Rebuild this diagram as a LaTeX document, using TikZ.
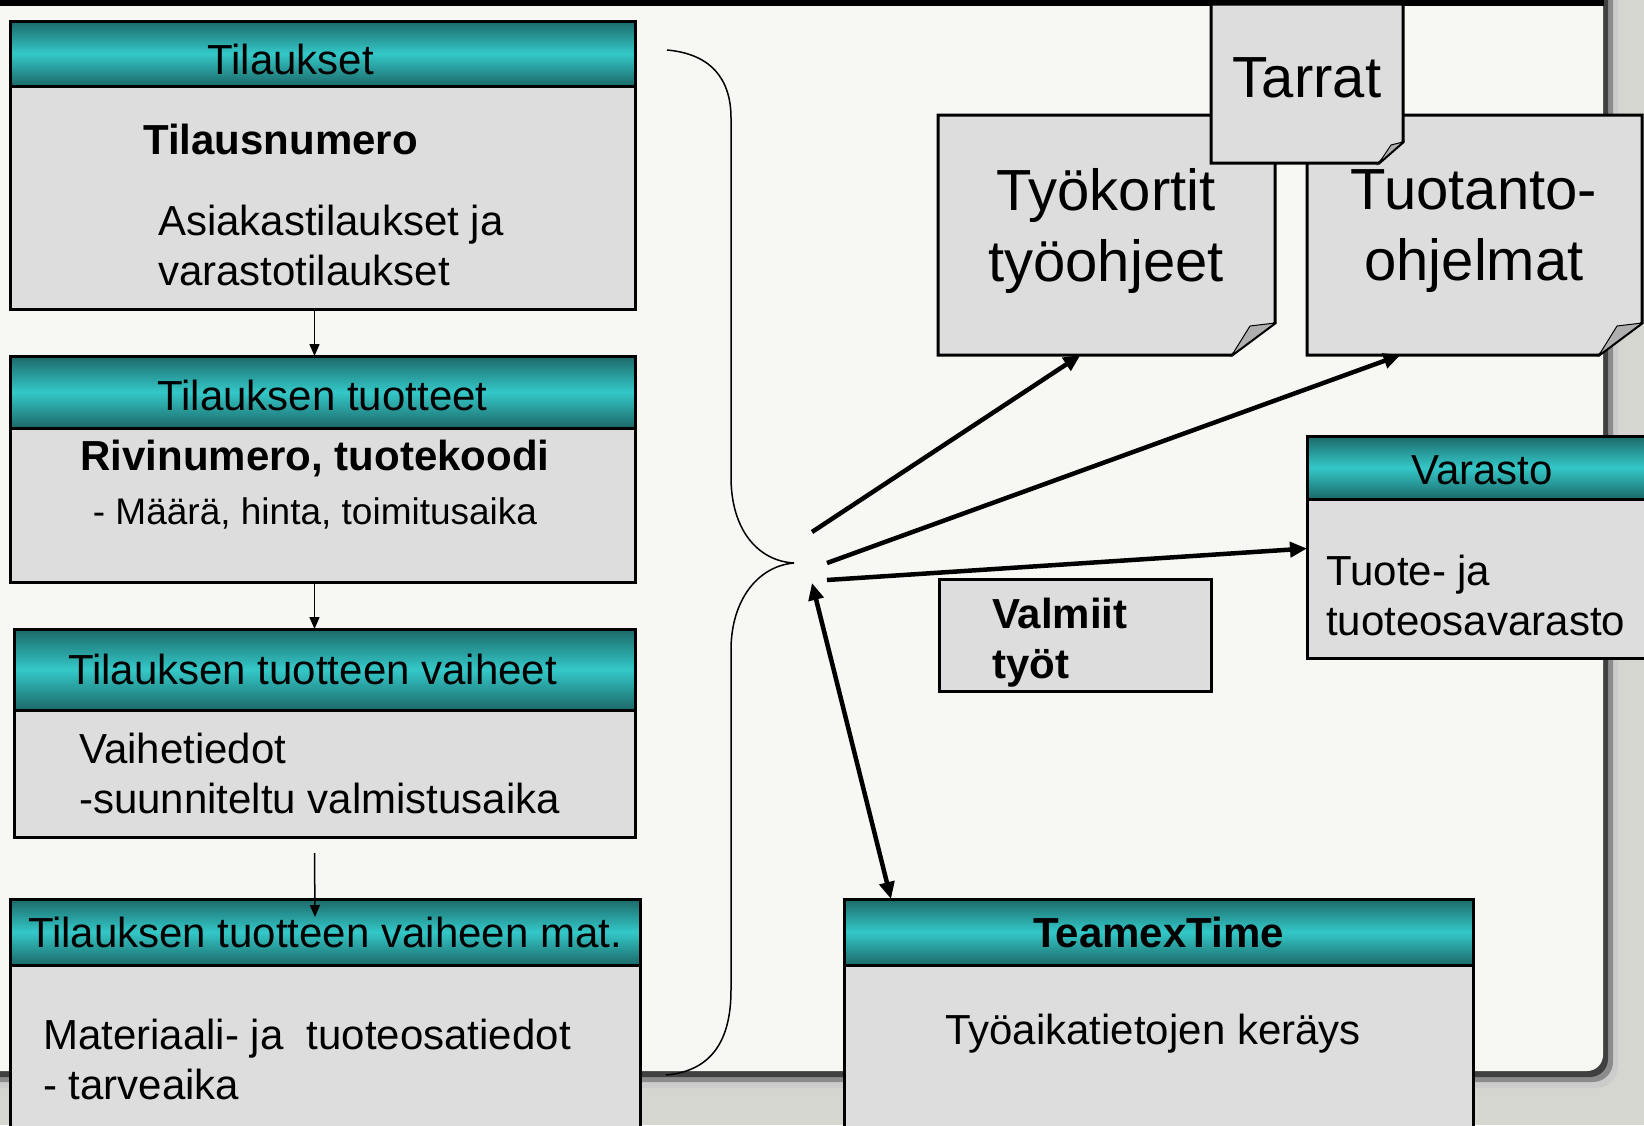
\documentclass[tikz,border=0pt]{standalone}
\usepackage{fontspec}
\setmainfont{Liberation Sans}
\usetikzlibrary{arrows.meta,calc}

\definecolor{boxgray}{RGB}{221,221,221}
\definecolor{tealdark}{RGB}{28,104,104}
\definecolor{teallight}{RGB}{52,200,200}
\definecolor{paper}{RGB}{247,247,243}
\definecolor{backgray}{RGB}{214,214,208}
\definecolor{foldgray}{RGB}{175,175,175}

\tikzset{
	hdr/.style={draw, line width=3pt, inner sep=0, outer sep=0, top color=tealdark, bottom color=tealdark, middle color=teallight, font=\fontsize{42}{50}\selectfont},
	bodybox/.style={draw, line width=3pt, fill=boxgray, inner sep=0, outer sep=0},
	txt/.style={font=\fontsize{42}{50}\selectfont, inner sep=0, align=left},
	txtb/.style={font=\fontsize{42}{50}\selectfont\bfseries, inner sep=0, align=left},
	docnode/.style={inner sep=0, outer sep=0},
	docline/.style={draw, line width=3pt, fill=boxgray},
	flap/.style={draw, line width=1pt, fill=foldgray},
	doctxt/.style={font=\fontsize{58}{71}\selectfont, inner sep=0, align=center},
	thinarr/.style={line width=1.5pt, -{Triangle[length=12pt,width=10pt]}},
	thickarr/.style={line width=4.5pt, -{Triangle[length=17pt,width=15pt]}},
	dblarr/.style={line width=4.5pt, {Triangle[length=17pt,width=15pt]}-{Triangle[length=17pt,width=15pt]}}
}

\begin{document}
\begin{tikzpicture}[x=1pt, y=-1pt]
	\useasboundingbox (0,0) rectangle (1644,1125);

% slide background and panel shadow
	\fill[backgray] (0,0) rectangle (1644,1125);
	\fill[black!20, rounded corners=22] (-20,-20) rectangle (1618,1088);
	\fill[black!45, rounded corners=20] (-20,-20) rectangle (1613,1082);
	\fill[black!75, rounded corners=18] (-20,-20) rectangle (1608,1077);
	\fill[paper, rounded corners=16] (-20,-20) rectangle (1603,1071);
	\fill[black] (0,0) rectangle (1604,6);

% order tables on the left
	\node[hdr, minimum width=625, minimum height=65, anchor=north west] (tilH) at (10,21) {\raisebox{-6pt}[\height][\depth]{Tilaukset}\hspace*{64pt}};
	\node[bodybox, minimum width=625, minimum height=223, anchor=north] (tilB) at (tilH.south) {};
	\node[txtb, anchor=west] (tilNum) at (143,139) {Tilausnumero};
	\node[txt, anchor=west] (tilTxt) at (158,245) {Asiakastilaukset ja\\varastotilaukset};

	\node[hdr, minimum width=625, minimum height=72, anchor=north west] (tuoH) at (10,356) {\raisebox{-3pt}[\height][\depth]{Tilauksen tuotteet}};
	\node[bodybox, minimum width=625, minimum height=154, anchor=north] (tuoB) at (tuoH.south) {};
	\node[txtb] (tuoKoodi) at (315,459) {Rivinumero, tuotekoodi};
	\node[txt, font=\fontsize{37}{44}\selectfont] (tuoMaara) at (315,513) {- Määrä, hinta, toimitusaika};

	\node[hdr, minimum width=621, minimum height=81, anchor=north west] (vaiH) at (14,629) {Tilauksen tuotteen vaiheet\hspace*{24pt}};
	\node[bodybox, minimum width=621, minimum height=127, anchor=north] (vaiB) at (vaiH.south) {};
	\node[txt, anchor=west] (vaiTxt) at (79,773) {Vaihetiedot\\-suunniteltu valmistusaika};

	\node[hdr, minimum width=630, minimum height=66, anchor=north west] (matH) at (10,899) {Tilauksen tuotteen vaiheen mat.};
	\node[bodybox, minimum width=630, minimum height=200, anchor=north] (matB) at (matH.south) {};
	\node[txt, anchor=west] (matTxt) at (43,1059) {Materiaali- ja\ \ tuoteosatiedot\\- tarveaika};

	\draw[thinarr] ([xshift=-8pt]tilB.south) -- ([xshift=-8pt]tuoH.north);
	\draw[thinarr] ([xshift=-8pt]tuoB.south) -- ([xshift=-10pt]vaiH.north);
	\draw[thinarr] ([xshift=-10pt, yshift=-16pt]vaiB.south) -- ([xshift=-10pt, yshift=-18pt]matH.north);

% brace
	\draw[line width=1.5pt] (667,50) .. controls (712,54) and (731,80) .. (731,118) -- (731,477)
		.. controls (731,530) and (758,561) .. (794,563)
		.. controls (758,566) and (731,600) .. (731,650) -- (731,990)
		.. controls (731,1040) and (712,1071) .. (666,1075);
	\coordinate (tip) at (794,563);

% printed documents
	\node[docnode, minimum width=337, minimum height=240, anchor=north west] (tyo) at (938,115) {};
	\draw[docline] (tyo.north west) -- (tyo.north east) -- ($(tyo.south east)+(0,-32)$) -- ($(tyo.south east)+(-43,0)$) -- (tyo.south west) -- cycle;
	\draw[flap] ($(tyo.south east)+(-43,0)$) -- ($(tyo.south east)+(-25,-29)$) -- ($(tyo.south east)+(0,-32)$) -- cycle;
	\node[doctxt] (tyoTxt) at (1106,231) {Työkortit\\työohjeet};

	\node[docnode, minimum width=335, minimum height=240, anchor=north west] (tuo) at (1307,115) {};
	\draw[docline] (tuo.north west) -- (tuo.north east) -- ($(tuo.south east)+(0,-32)$) -- ($(tuo.south east)+(-43,0)$) -- (tuo.south west) -- cycle;
	\draw[flap] ($(tuo.south east)+(-43,0)$) -- ($(tuo.south east)+(-25,-29)$) -- ($(tuo.south east)+(0,-32)$) -- cycle;
	\node[doctxt] (tuoTxt) at (1474,231) {Tuotanto-\\ohjelmat};

	\node[docnode, minimum width=192, minimum height=159, anchor=north west] (tar) at (1211,4) {};
	\draw[docline] (tar.north west) -- (tar.north east) -- ($(tar.south east)+(0,-21)$) -- ($(tar.south east)+(-24,0)$) -- (tar.south west) -- cycle;
	\draw[flap] ($(tar.south east)+(-24,0)$) -- ($(tar.south east)+(-12,-18)$) -- ($(tar.south east)+(0,-21)$) -- cycle;
	\node[doctxt] (tarTxt) at (1307,78) {Tarrat};

% stock, finished jobs, time collection
	\node[hdr, minimum width=350, minimum height=63, anchor=north west] (varH) at (1307,436) {\raisebox{-3pt}[\height][\depth]{Varasto}};
	\node[bodybox, minimum width=350, minimum height=159, anchor=north] (varB) at (varH.south) {};
	\node[txt, anchor=west] (varTxt) at (1326,595) {Tuote- ja\\tuoteosavarasto};

	\node[bodybox, minimum width=272, minimum height=112, anchor=north west] (valmis) at (939,579) {};
	\node[txtb, anchor=west] (valTxt) at (992,643) {Valmiit\\työt};

	\node[hdr, minimum width=629, minimum height=66, anchor=north west] (teamH) at (844,899) {\bfseries TeamexTime};
	\node[bodybox, minimum width=629, minimum height=200, anchor=north] (teamB) at (teamH.south) {};
	\node[txt] (teamTxt) at (1153,1034) {Työaikatietojen keräys};

% arrows out of the brace
	\draw[thickarr] ($(tip)+(18,-31)$) -- ([xshift=-26pt]tyo.south);
	\draw[thickarr] ($(tip)+(33,0)$) -- ([xshift=-74pt]tuo.south);
	\draw[thickarr] ($(tip)+(33,17)$) -- ([yshift=30pt]varB.west);
	\draw[dblarr] ($(tip)+(18,20)$) -- ($(teamH.north west)+(47,0)$);

\end{tikzpicture}
\end{document}
